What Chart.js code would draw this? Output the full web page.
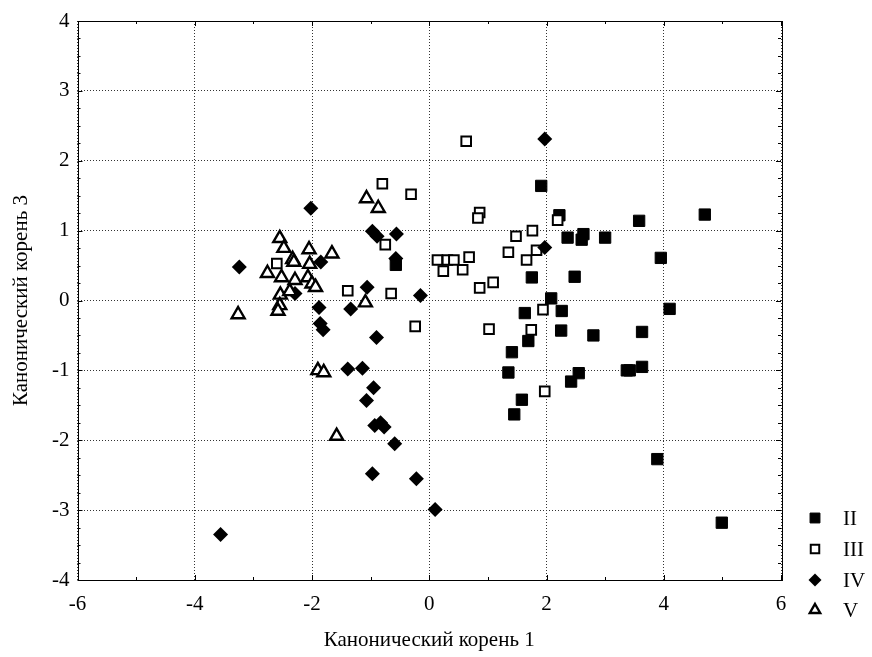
<!DOCTYPE html>
<html>
<head>
<meta charset="utf-8">
<script src="https://cdn.jsdelivr.net/npm/chart.js@4"></script>
<style>
  html, body { margin: 0; padding: 0; background: #fff; }
  #wrap { width: 872px; height: 657px; }
</style>
</head>
<body>
<div id="wrap"><canvas id="chart" width="872" height="657"></canvas></div>
<script>
// series values, [root1, root3]
var groupII = [
    [1.91, 1.64], [2.22, 1.22], [2.36, 0.9], [2.6, 0.87], [2.63, 0.95], [3.0, 0.9],
    [3.58, 1.14], [4.7, 1.23], [3.95, 0.61], [1.75, 0.33], [2.48, 0.34], [2.08, 0.03],
    [1.63, -0.18], [2.26, -0.15], [4.1, -0.12], [2.25, -0.43], [3.63, -0.45], [2.8, -0.5],
    [1.69, -0.58], [1.41, -0.74], [1.35, -1.03], [2.55, -1.04], [2.42, -1.16], [3.37, -1.0],
    [3.42, -1.0], [3.63, -0.95], [1.58, -1.42], [1.45, -1.63], [3.89, -2.27], [4.99, -3.18],
    [-0.57, 0.51]
];
var groupIII = [
    [0.63, 2.28], [-0.8, 1.67], [-0.31, 1.52], [0.86, 1.26], [0.83, 1.18], [2.19, 1.15],
    [1.76, 1.0], [1.48, 0.92], [1.83, 0.72], [1.35, 0.69], [1.66, 0.58], [0.14, 0.58],
    [0.31, 0.58], [0.42, 0.58], [0.68, 0.62], [0.24, 0.42], [0.57, 0.44], [1.09, 0.26],
    [0.86, 0.18], [1.94, -0.13], [1.74, -0.42], [1.02, -0.41], [1.97, -1.3], [-0.24, -0.37],
    [-0.65, 0.1], [-1.39, 0.14], [-2.6, 0.53], [-0.75, 0.8]
];
var groupIV = [
    [1.97, 2.31], [1.97, 0.76], [-2.02, 1.32], [-0.97, 0.99], [-0.89, 0.92], [-0.56, 0.95],
    [-0.57, 0.6], [-3.24, 0.48], [-1.85, 0.55], [-1.88, -0.1], [-1.06, 0.19], [-0.15, 0.07],
    [-1.34, -0.12], [-1.86, -0.33], [-1.81, -0.42], [-0.9, -0.53], [-1.39, -0.98], [-1.14, -0.97],
    [-0.95, -1.25], [-1.07, -1.43], [-0.93, -1.79], [-0.83, -1.75], [-0.77, -1.81], [-0.59, -2.05],
    [-0.97, -2.48], [-0.22, -2.55], [0.1, -2.99], [-3.56, -3.35], [-2.29, 0.1]
];
var groupV = [
    [-1.07, 1.46], [-0.87, 1.32], [-2.55, 0.89], [-2.48, 0.75], [-2.33, 0.59], [-2.31, 0.55],
    [-2.05, 0.73], [-2.04, 0.52], [-1.66, 0.67], [-2.76, 0.39], [-2.52, 0.33], [-2.29, 0.29],
    [-2.07, 0.33], [-2.0, 0.24], [-1.94, 0.19], [-2.54, 0.08], [-2.38, 0.13], [-2.55, -0.07],
    [-2.58, -0.15], [-3.26, -0.2], [-1.09, -0.03], [-1.9, -1.0], [-1.8, -1.03], [-1.58, -1.94]
];
var groupNames = ["II", "III", "IV", "V"];
var xTitle = "Канонический корень 1";
var yTitle = "Канонический корень 3";

function toPoints(arr) {
    return arr.map(function (p) { return { x: p[0], y: p[1] }; });
}

var FONT = "'Liberation Serif', 'Times New Roman', serif";

function drawMarker(ctx, style, x, y, r) {
    if (style === "rect") {
        var s = r / Math.SQRT2;
        ctx.rect(x - s, y - s, 2 * s, 2 * s);
    } else if (style === "rectRot") {
        ctx.moveTo(x, y - r); ctx.lineTo(x + r, y); ctx.lineTo(x, y + r); ctx.lineTo(x - r, y);
        ctx.closePath();
    } else {
        var half = r * Math.sqrt(3) / 2;
        ctx.moveTo(x, y - r); ctx.lineTo(x + half, y + r / 2); ctx.lineTo(x - half, y + r / 2);
        ctx.closePath();
    }
}

// frame, minor ticks, axis titles and legend
var decor = {
    id: "decor",
    afterDraw: function (chart) {
        var ctx = chart.ctx;
        var a = chart.chartArea;
        var xs = chart.scales.x, ys = chart.scales.y;
        ctx.save();
        ctx.strokeStyle = "#000";
        ctx.lineWidth = 1;
        ctx.strokeRect(Math.round(a.left) + 0.5, Math.round(a.top) + 0.5,
            Math.round(a.right - a.left), Math.round(a.bottom - a.top));
        ctx.beginPath();
        for (var v = -6; v <= 6; v += 1) {
            var px = Math.round(xs.getPixelForValue(v)) + 0.5;
            var len = (v % 2 === 0) ? 5 : 3;
            ctx.moveTo(px, a.bottom); ctx.lineTo(px, a.bottom - len);
            ctx.moveTo(px, a.top); ctx.lineTo(px, a.top + len);
        }
        for (var w = -4; w <= 4.001; w += 0.25) {
            var py = Math.round(ys.getPixelForValue(w)) + 0.5;
            var l2 = (Math.abs(w - Math.round(w)) < 0.01) ? 5 : 3;
            ctx.moveTo(a.left, py); ctx.lineTo(a.left + l2, py);
            ctx.moveTo(a.right, py); ctx.lineTo(a.right - l2, py);
        }
        ctx.stroke();

        ctx.fillStyle = "#000";
        ctx.font = "21px " + FONT;
        ctx.textAlign = "center";
        ctx.textBaseline = "middle";
        ctx.fillText(xTitle, (a.left + a.right) / 2, 640);
        ctx.save();
        ctx.translate(21, (a.top + a.bottom) / 2);
        ctx.rotate(-Math.PI / 2);
        ctx.fillText(yTitle, 0, 0);
        ctx.restore();

        // legend
        var rowY = [518, 549, 580, 610];
        chart.data.datasets.forEach(function (ds, i) {
            ctx.fillStyle = ds.backgroundColor;
            ctx.strokeStyle = ds.borderColor;
            ctx.lineWidth = ds.borderWidth;
            ctx.beginPath();
            drawMarker(ctx, ds.pointStyle, 815, rowY[i], ds.legendRadius);
            ctx.fill();
            if (ds.borderWidth > 0) ctx.stroke();
            ctx.fillStyle = "#000";
            ctx.textAlign = "left";
            ctx.fillText(ds.label, 843, rowY[i] + 1);
        });
        ctx.restore();
    }
};

var chart = new Chart(document.getElementById("chart"), {
    type: "scatter",
    data: {
        datasets: [{
            label: groupNames[0],
            data: toPoints(groupII),
            pointStyle: "rect",
            pointRadius: 8,
            backgroundColor: "#000",
            borderColor: "#000",
            borderWidth: 1,
            legendRadius: 7,
            order: 3
        }, {
            label: groupNames[1],
            data: toPoints(groupIII),
            pointStyle: "rect",
            pointRadius: 6.8,
            backgroundColor: "#fff",
            borderColor: "#000",
            borderWidth: 2,
            legendRadius: 6,
            order: 2
        }, {
            label: groupNames[2],
            data: toPoints(groupIV),
            pointStyle: "rectRot",
            pointRadius: 7.5,
            backgroundColor: "#000",
            borderColor: "#000",
            borderWidth: 0,
            legendRadius: 6.5,
            order: 1
        }, {
            label: groupNames[3],
            data: toPoints(groupV),
            pointStyle: "triangle",
            pointRadius: 7.5,
            backgroundColor: "#fff",
            borderColor: "#000",
            borderWidth: 2.4,
            legendRadius: 6,
            order: 0
        }]
    },
    options: {
        responsive: false,
        animation: false,
        layout: { padding: { top: 21, right: 91, left: 0, bottom: 0 } },
        plugins: {
            legend: { display: false },
            tooltip: { enabled: false }
        },
        scales: {
            x: {
                type: "linear",
                min: -6, max: 6,
                afterFit: function (s) { s.height = 77; },
                ticks: { stepSize: 2, color: "#000", padding: 12, maxRotation: 0,
                    font: { family: FONT, size: 21 } },
                grid: { color: "#333", drawTicks: false, lineWidth: 1 },
                border: { display: false, dash: [1, 2] }
            },
            y: {
                type: "linear",
                min: -4, max: 4,
                afterFit: function (s) { s.width = 77.5; },
                ticks: { stepSize: 1, color: "#000", padding: 8,
                    font: { family: FONT, size: 21 } },
                grid: { color: "#333", drawTicks: false, lineWidth: 1 },
                border: { display: false, dash: [1, 2] }
            }
        }
    },
    plugins: [decor]
});
</script>
</body>
</html>
